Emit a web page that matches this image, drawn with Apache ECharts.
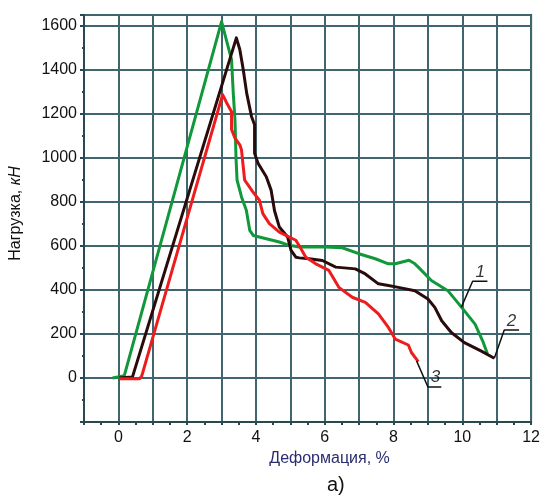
<!DOCTYPE html>
<html>
<head>
<meta charset="utf-8">
<script src="https://cdn.jsdelivr.net/npm/echarts@6.0.0/dist/echarts.min.js"></script>
<style>
html, body { margin: 0; padding: 0; background: #fff; }
#chart { width: 543px; height: 495px; }
</style>
</head>
<body>
<div id="chart"></div>
<script>
// деформация, % / нагрузка, кН
const curve1 = [[-0.17,0],[0.17,10],[3.0,1620],[3.29,1447],[3.34,1295],[3.39,1173],[3.42,1000],[3.45,900],[3.58,823],[3.72,763],[3.82,671],[3.92,648],[4.3,633],[4.68,618],[4.97,603],[5.26,595],[6.0,595],[6.51,592],[6.99,565],[7.47,542],[7.85,519],[8.05,519],[8.45,535],[8.62,519],[8.72,504],[9.1,443],[9.58,397],[9.98,321],[10.37,245],[10.59,169],[10.73,110]];
const curve2 = [[0.02,0],[0.41,5],[3.43,1546],[3.53,1493],[3.63,1402],[3.73,1295],[3.87,1189],[3.96,1151],[3.96,1021],[4.06,976],[4.3,915],[4.44,854],[4.54,760],[4.68,686],[4.92,641],[5.02,580],[5.16,549],[5.26,546],[5.55,542],[5.93,534],[6.32,504],[6.89,496],[7.18,473],[7.56,428],[7.85,420],[8.14,412],[8.62,397],[9.0,359],[9.2,321],[9.4,260],[9.68,207],[10.06,161],[10.54,123],[10.93,90]];
const curve3 = [[0.02,-3],[0.62,-3],[0.68,10],[3.03,1288],[3.15,1250],[3.29,1210],[3.29,1130],[3.39,1090],[3.53,1060],[3.58,1036],[3.67,900],[3.91,846],[4.1,808],[4.2,747],[4.39,702],[4.68,663],[5.07,633],[5.16,626],[5.3,590],[5.45,549],[5.74,519],[6.12,489],[6.41,412],[6.8,367],[7.18,344],[7.56,291],[7.85,230],[8.05,177],[8.43,150],[8.52,116],[8.72,74]];

// выноски с номерами кривых
const leader1 = [[9.97,321],[10.3,440],[10.73,440]];
const leader2 = [[10.93,90],[11.22,218],[11.65,218]];
const leader3 = [[8.67,78],[9.0,-41],[9.39,-41]];
const curveLabels = [
    { name: '1', value: [10.52,482] },
    { name: '2', value: [11.43,258] },
    { name: '3', value: [9.22,3] }
];

const xMin = -1, xMax = 12;
const yMin = -200, yMax = 1650;

let myChart = echarts.init(document.getElementById('chart'));

const gridColor = '#3f656e';
const axisColor = '#2a4850';

function leaderSeries(data){
    return {
        type: 'line',
        data: data,
        symbol: 'none',
        silent: true,
        lineStyle: { color: '#111', width: 1.5 },
        z: 4
    }
}

let option = {
    animation: false,
    backgroundColor: '#fff',
    grid: {
        left: 83,
        right: 9,
        top: 15,
        bottom: 73,
        show: true,
        borderColor: axisColor,
        borderWidth: 2
    },
    xAxis: {
        type: 'value',
        min: xMin,
        max: xMax,
        interval: 1,
        name: 'Деформация, %',
        nameLocation: 'middle',
        nameGap: 29,
        nameTextStyle: {
            color: '#2a2d6e',
            fontFamily: 'Liberation Sans',
            fontSize: 16,
            padding: [0, 0, 0, 44]
        },
        axisLine: { onZero: false, lineStyle: { color: axisColor, width: 2 } },
        axisTick: { show: true, length: 3, lineStyle: { color: axisColor, width: 2 } },
        minorTick: { show: true, splitNumber: 2, length: 3, lineStyle: { color: axisColor, width: 2 } },
        axisLabel: {
            color: '#111',
            fontFamily: 'Liberation Sans',
            fontSize: 16,
            margin: 8,
            formatter: v => (v >= 0 && v % 2 === 0) ? String(v) : ''
        },
        splitLine: { show: true, lineStyle: { color: gridColor, width: 2 } }
    },
    yAxis: {
        type: 'value',
        min: yMin,
        max: yMax,
        interval: 200,
        name: 'Нагрузка, {i|кН}',
        nameLocation: 'middle',
        nameGap: 60,
        nameRotate: 90,
        nameTextStyle: {
            color: '#111',
            fontFamily: 'Liberation Sans',
            fontSize: 16,
            padding: [0, 0, 0, 10],
            rich: {
                i: { fontStyle: 'italic', fontFamily: 'Liberation Sans', fontSize: 16, color: '#111' }
            }
        },
        axisLine: { show: true, onZero: false, lineStyle: { color: axisColor, width: 2 } },
        axisTick: { show: true, length: 4, lineStyle: { color: axisColor, width: 2 } },
        minorTick: { show: true, splitNumber: 2, length: 2, lineStyle: { color: axisColor, width: 2 } },
        axisLabel: {
            color: '#111',
            fontFamily: 'Liberation Sans',
            fontSize: 16,
            margin: 7,
            formatter: v => v >= 0 ? String(v) : ''
        },
        splitLine: { show: true, lineStyle: { color: gridColor, width: 2 } }
    },
    series: [
        {
            type: 'line', name: '1', data: curve1, symbol: 'none',
            lineStyle: { color: '#11983a', width: 3, join: 'round' }, z: 3
        },
        {
            type: 'line', name: '2', data: curve2, symbol: 'none',
            lineStyle: { color: '#2a0b0b', width: 3, join: 'round' }, z: 3
        },
        {
            type: 'line', name: '3', data: curve3, symbol: 'none',
            lineStyle: { color: '#ee1c1c', width: 3, join: 'round' }, z: 3
        },
        leaderSeries(leader1),
        leaderSeries(leader2),
        leaderSeries(leader3),
        {
            type: 'scatter',
            data: curveLabels,
            symbolSize: 0,
            silent: true,
            z: 5,
            label: {
                show: true,
                position: 'inside',
                formatter: p => p.name,
                color: '#000',
                fontFamily: 'Liberation Sans',
                fontStyle: 'italic',
                fontSize: 17
            }
        }
    ],
    graphic: [{
        type: 'text',
        left: 327,
        top: 475,
        style: {
            text: 'а)',
            fill: '#111',
            font: '20px "Liberation Sans"'
        }
    }]
};

myChart.setOption(option);
</script>
</body>
</html>
